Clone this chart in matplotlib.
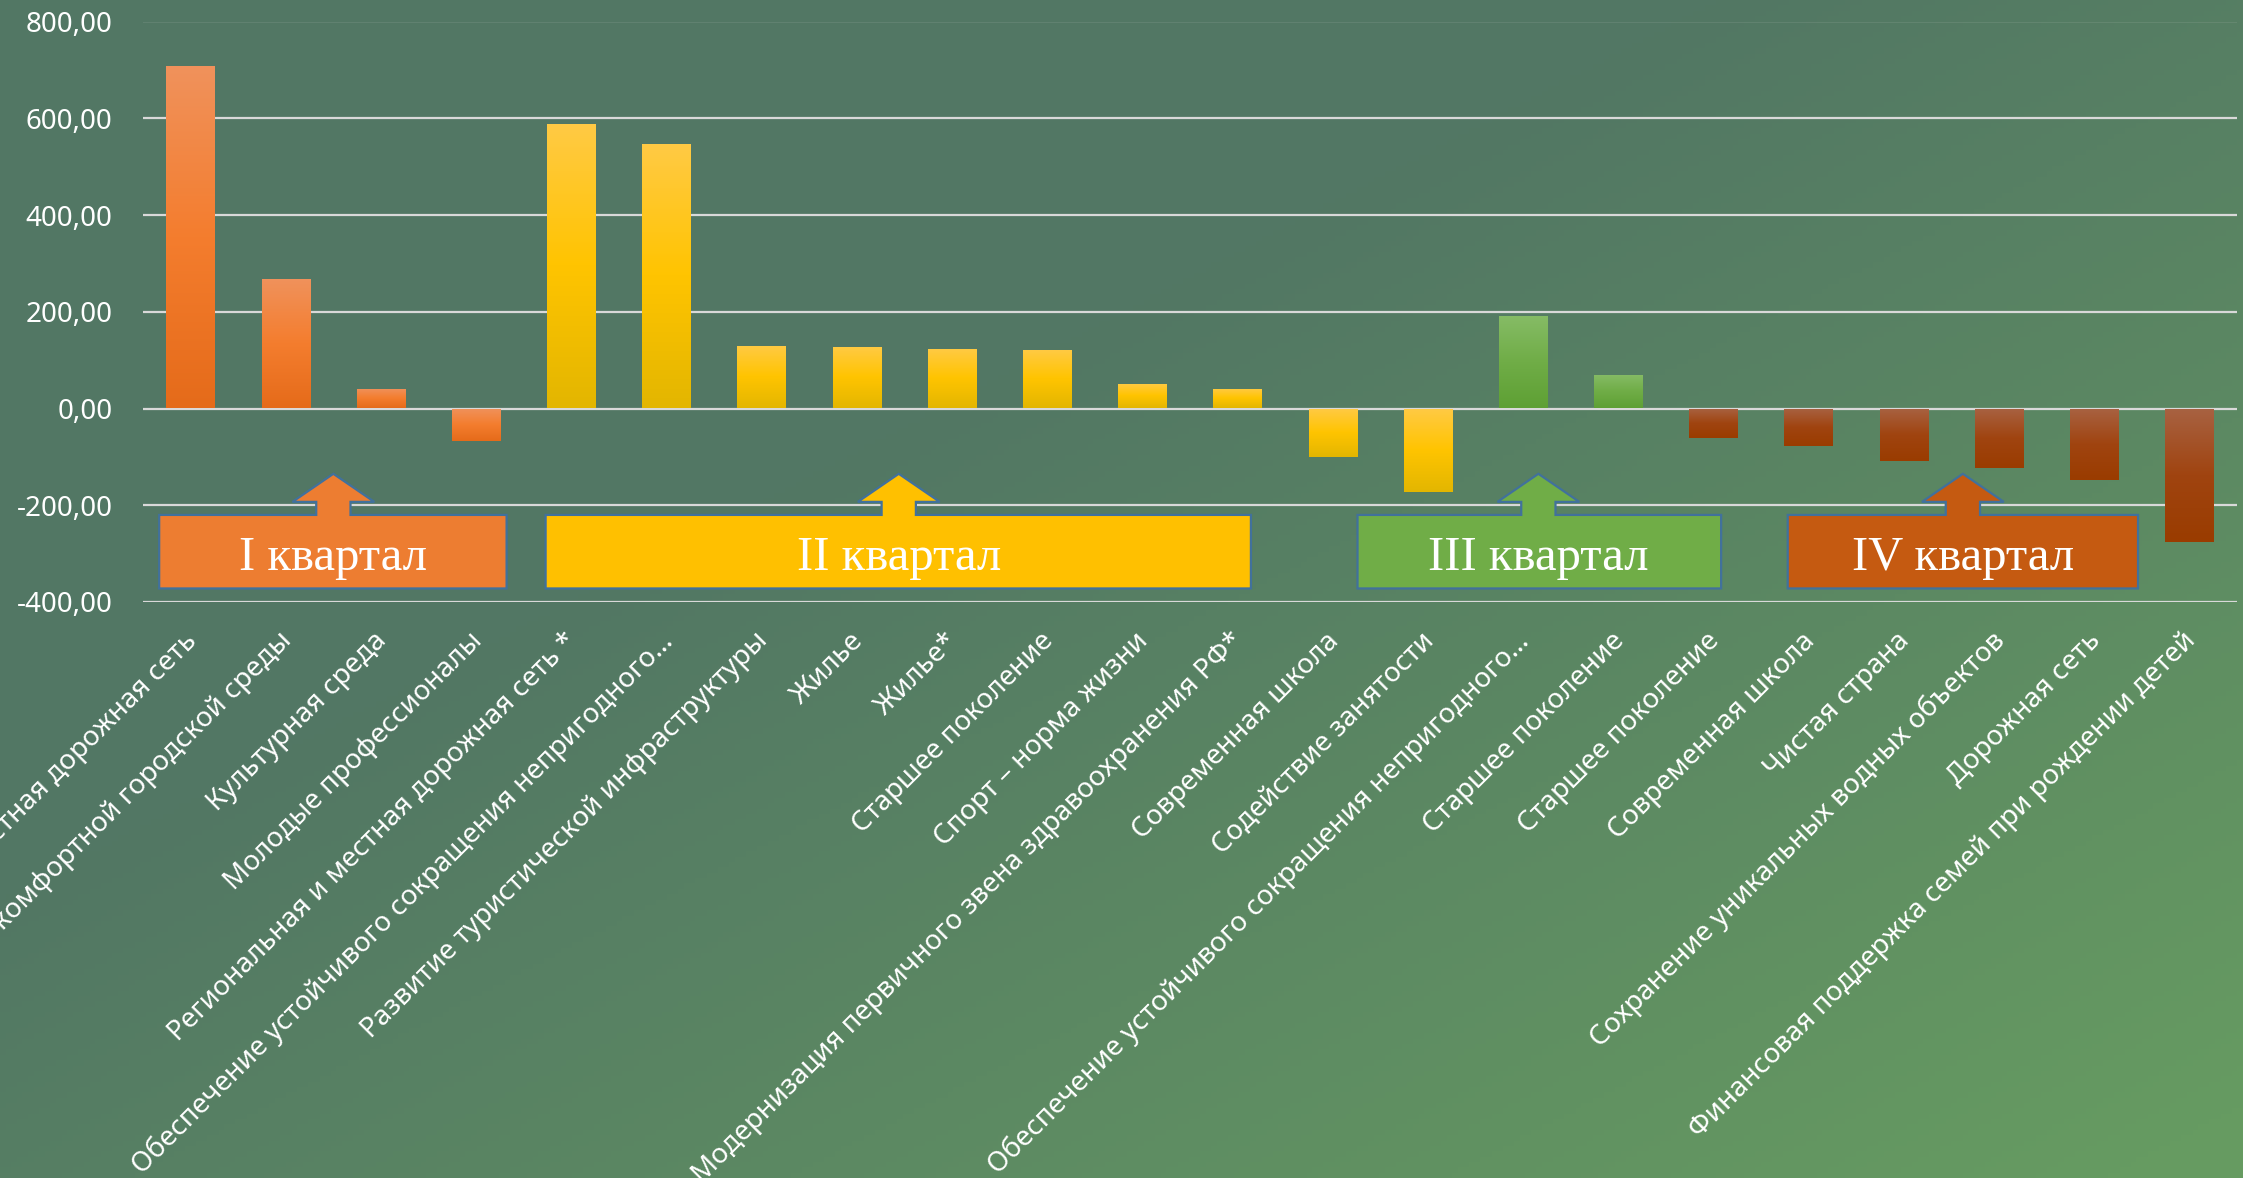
import matplotlib
matplotlib.use('Agg')
import matplotlib.pyplot as plt
import matplotlib.transforms as mtransforms
from matplotlib.colors import LinearSegmentedColormap, to_rgb
from matplotlib.patches import Polygon
from matplotlib.ticker import FuncFormatter
import numpy as np

labels = [
    "Региональная и местная дорожная сеть",
    "Формирование комфортной городской среды",
    "Культурная среда",
    "Молодые профессионалы",
    "Региональная и местная дорожная сеть *",
    "Обеспечение устойчивого сокращения непригодного…",
    "Развитие туристической инфраструктуры",
    "Жилье",
    "Жилье*",
    "Старшее поколение",
    "Спорт – норма жизни",
    "Модернизация первичного звена здравоохранения РФ*",
    "Современная школа",
    "Содействие занятости",
    "Обеспечение устойчивого сокращения непригодного…",
    "Старшее поколение",
    "Старшее поколение",
    "Современная школа",
    "Чистая страна",
    "Сохранение уникальных водных объектов",
    "Дорожная сеть",
    "Финансовая поддержка семей при рождении детей",
]
values = [707, 267, 40, -68, 589, 546, 130, 127, 124, 121, 50, 41,
          -101, -172, 191, 69, -60, -77, -108, -122, -147, -277]
quarter = [0, 0, 0, 0, 1, 1, 1, 1, 1, 1, 1, 1, 1, 1, 2, 2, 3, 3, 3, 3, 3, 3]
quarter_names = ["I квартал", "II квартал", "III квартал", "IV квартал"]

# gradient (top, middle, bottom) per quarter
bar_grad = [
    ["#F0925C", "#F47D2E", "#E56B1A"],
    ["#FFCA45", "#FFC400", "#E3B600"],
    ["#86BC66", "#70AD47", "#5EA034"],
    ["#A86242", "#A04410", "#9A3C00"],
]
box_fill = ["#ED7D31", "#FFC000", "#70AD47", "#C55A11"]
# callout boxes: left, right, arrow x (category units)
boxes = [(-0.33, 3.32, 1.50), (3.73, 11.14, 7.44), (12.26, 16.08, 14.16), (16.78, 20.46, 18.62)]

W, H = 2243, 1178
fig = plt.figure(figsize=(W / 100, H / 100), dpi=100)

# background gradient
bg = fig.add_axes([0, 0, 1, 1], zorder=-10)
gx, gy = np.meshgrid(np.linspace(0, 1, 400), np.linspace(0, 1, 220))
f = np.clip(0.85 * gx + 0.85 * gy - 0.65, 0, 1)
f = f / f.max()
dark = np.array(to_rgb("#527764"))
light = np.array(to_rgb("#669B61"))
img = dark[None, None, :] * (1 - f[..., None]) + light[None, None, :] * f[..., None]
bg.imshow(img, aspect='auto', extent=[0, 1, 1, 0], origin='upper')
bg.set_axis_off()

ax = fig.add_axes([143 / W, 1 - 602 / H, (2237 - 143) / W, (602 - 21.5) / H])
ax.set_facecolor('none')
x = np.arange(len(values))
bw = 0.51
bars = ax.bar(x, values, width=bw, color='none', zorder=2)
for b, v, q in zip(bars, values, quarter):
    cmap = LinearSegmentedColormap.from_list('g', bar_grad[q][::-1])
    grad = np.linspace(0, 1, 256).reshape(-1, 1)
    x0 = b.get_x()
    y0, y1 = min(0, v), max(0, v)
    im = ax.imshow(grad, cmap=cmap, aspect='auto', origin='lower',
                   extent=[x0, x0 + bw, y0, y1], zorder=2)
    im.set_clip_path(b)

ax.set_xlim(-0.5, len(values) - 0.5)
ax.set_ylim(-400, 800)
ax.set_yticks([-400, -200, 0, 200, 400, 600, 800])
ax.yaxis.set_major_formatter(FuncFormatter(lambda v, p: f"{v:.2f}".replace('.', ',')))
ax.grid(axis='y', color='#D9D9D9', linewidth=1.6, zorder=0)
ax.set_axisbelow(True)
for s in ax.spines.values():
    s.set_visible(False)
ax.tick_params(axis='both', length=0)
ax.tick_params(axis='y', pad=22, labelsize=20, labelcolor='white')
ax.tick_params(axis='x', pad=18, labelsize=20, labelcolor='white')
for t in ax.get_yticklabels():
    t.set_family('Noto Sans')
ax.set_xticks(x)
ax.set_xticklabels(labels, rotation=45, ha='right', rotation_mode='anchor', family='Noto Sans')
off = mtransforms.ScaledTranslation(-0.08, 0, fig.dpi_scale_trans)
for t in ax.get_xticklabels():
    t.set_transform(t.get_transform() + off)

# quarter callouts
top, bottom, head_y, tip_y = -220, -372, -193, -135
hw, sw = 0.43, 0.18
for (l, r, ax_x), name, c in zip(boxes, quarter_names, box_fill):
    pts = [(l, top), (ax_x - sw, top), (ax_x - sw, head_y), (ax_x - hw, head_y),
           (ax_x, tip_y), (ax_x + hw, head_y), (ax_x + sw, head_y), (ax_x + sw, top),
           (r, top), (r, bottom), (l, bottom)]
    ax.add_patch(Polygon(pts, closed=True, facecolor=c, edgecolor='#41719C',
                         linewidth=1.6, zorder=4, clip_on=False))
    ax.text(ax_x, -333, name, ha='center', va='baseline', color='white',
            fontsize=35, family='Liberation Serif', zorder=5)

fig.savefig('out.png', dpi=100)
